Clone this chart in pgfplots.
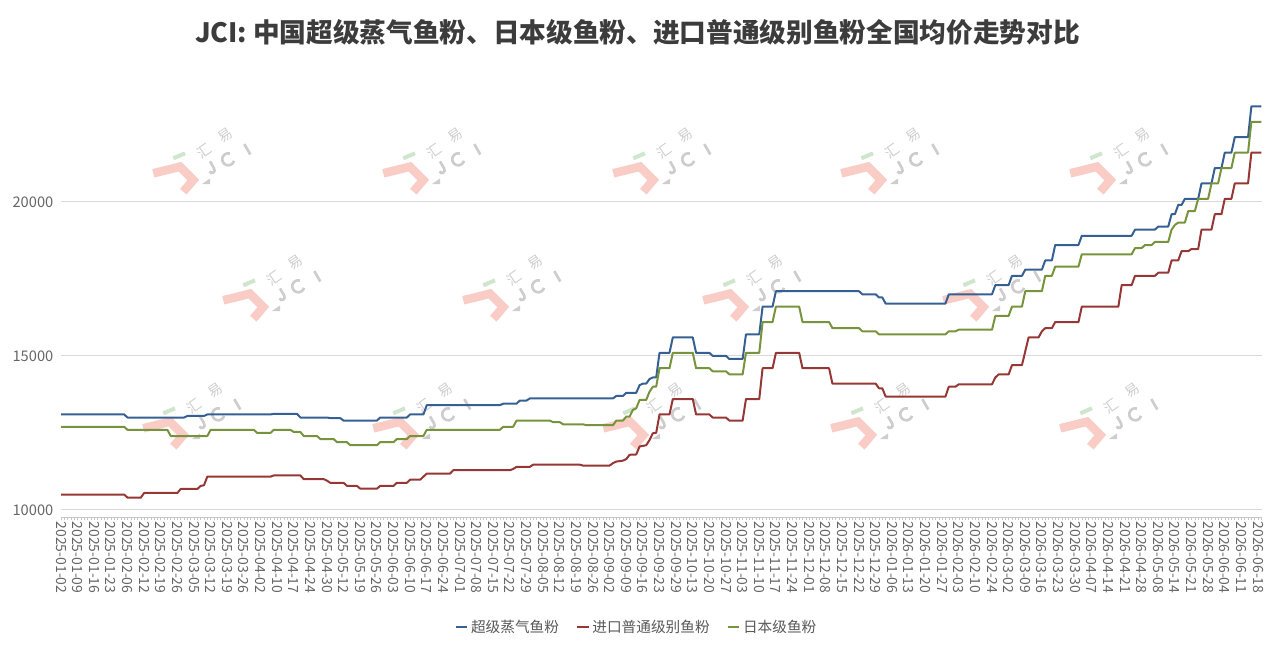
\documentclass[border=0pt]{standalone}
\usepackage{pgfplots}
\pgfplotsset{compat=1.18}
\usepackage{fontspec}
\setmainfont{Noto Sans CJK SC}
\definecolor{cblue}{RGB}{55,96,146}
\definecolor{cred}{RGB}{149,55,53}
\definecolor{cgreen}{RGB}{119,147,60}
\definecolor{tickgray}{RGB}{102,102,102}
\definecolor{leggray}{RGB}{89,89,89}
\definecolor{titlegray}{RGB}{60,60,60}
\definecolor{gridgray}{RGB}{217,217,217}
\definecolor{wmpink}{RGB}{249,205,198}
\definecolor{wmgreen}{RGB}{205,230,205}
\definecolor{wmgray}{RGB}{205,205,205}
\newcommand\wm[2]{%
\begin{scope}[shift={(#1,#2)}]
\draw[wmpink,line width=6.5pt,line join=miter] (3.3,3.3) -- (30,-3.3) -- (43.3,10) -- (33.3,21.7);
\draw[wmgreen,line width=3pt] (23.3,-11.7) -- (35,-16.7);
\fill[wmgray] (52,14) -- (60,8.5) -- (60,14) -- cycle;
\node[wmgray,rotate=35,inner sep=0pt,font=\fontsize{10.5}{10.5}\selectfont] at (54.4,-19.2) {汇};
\node[wmgray,rotate=35,inner sep=0pt,font=\fontsize{10.5}{10.5}\selectfont] at (75.6,-34.2) {易};
\begin{scope}[shift={(61.7,-2.7)},rotate=30]
\draw[wmgray,line width=2pt] (1.5,-6) -- (1.5,2) .. controls (1.5,6.5) and (-4,6.5) .. (-4,2.5);
\end{scope}
\begin{scope}[shift={(78.3,-10.7)},rotate=30]
\draw[wmgray,line width=2pt] (4.2,4.2) arc[start angle=45,end angle=315,radius=6];
\end{scope}
\begin{scope}[shift={(97.3,-20.7)},rotate=30]
\draw[wmgray,line width=2pt] (0,-6) -- (0,6);
\end{scope}
\end{scope}}
\begin{document}
\begin{tikzpicture}
\begin{scope}[x=0.75pt,y=-0.75pt]
\foreach \xx in {150,380,610,838,1067} {\wm{\xx}{170}}
\foreach \xx in {220,460,700,940} {\wm{\xx}{297}}
\foreach \xx in {140,370,600,828,1057} {\wm{\xx}{425}}
\node[font=\bfseries\fontsize{20}{24}\selectfont,text=titlegray] at (637.5,32) {JCI: 中国超级蒸气鱼粉、日本级鱼粉、进口普通级别鱼粉全国均价走势对比};
\end{scope}
\begin{axis}[
  at={(45.75pt,-387.75pt)}, anchor=south west,
  scale only axis, width=900.75pt, height=317.2pt,
  xmin=0, xmax=361.2, ymin=9770, ymax=23500,
  axis x line*=bottom, axis y line*=left,
  x axis line style={draw=gray!45,-},
  y axis line style={draw=none},
  scaled y ticks=false,
  ytick={10000,15000,20000}, yticklabels={10000,15000,20000},
  ytick style={draw=none},
  ymajorgrids, grid style={gridgray,line width=0.75pt},
  yticklabel style={font=\fontsize{11}{11}\selectfont,text=tickgray},
  xtick={0,5,...,360},
  minor xtick={0,1,...,361},
  tick align=outside,
  major tick length=2.25pt, minor tick length=2.25pt,
  xtick style={draw=gray!45,line width=0.4pt},
  minor tick style={draw=gray!45,line width=0.4pt},
  xticklabels={2025-01-02,2025-01-09,2025-01-16,2025-01-23,2025-02-06,2025-02-12,2025-02-19,2025-02-26,2025-03-05,2025-03-12,2025-03-19,2025-03-26,2025-04-02,2025-04-10,2025-04-17,2025-04-24,2025-04-30,2025-05-12,2025-05-19,2025-05-26,2025-06-03,2025-06-10,2025-06-17,2025-06-24,2025-07-01,2025-07-08,2025-07-15,2025-07-22,2025-07-29,2025-08-05,2025-08-12,2025-08-19,2025-08-26,2025-09-02,2025-09-09,2025-09-16,2025-09-23,2025-09-29,2025-10-13,2025-10-20,2025-10-27,2025-11-03,2025-11-10,2025-11-17,2025-11-24,2025-12-01,2025-12-08,2025-12-15,2025-12-22,2025-12-29,2026-01-06,2026-01-13,2026-01-20,2026-01-27,2026-02-03,2026-02-10,2026-02-24,2026-03-02,2026-03-09,2026-03-16,2026-03-23,2026-03-30,2026-04-07,2026-04-14,2026-04-21,2026-04-28,2026-05-08,2026-05-14,2026-05-21,2026-05-28,2026-06-04,2026-06-11,2026-06-18},
  xticklabel style={rotate=-90,anchor=west,font=\fontsize{10.5}{10.5}\selectfont,text=tickgray,inner sep=1pt},
  legend columns=3,
  legend style={at={(0.4796,-0.26)},anchor=center,draw=none,fill=none,font=\fontsize{11}{11}\selectfont,text=leggray,
    /tikz/every even column/.append style={column sep=11pt}},
  legend image code/.code={\draw[#1,line width=1.5pt] (0pt,0pt) -- (8.5pt,0pt);},
  every axis plot/.append style={line width=1.5pt,line join=round,no marks},
]
\addplot[cblue] coordinates {(0,13100) (19,13100) (20,13000) (37,13000) (38,13050) (43,13050) (44,13100) (63,13100) (64,13120) (71,13120) (72,13000) (80,13000) (81,12980) (84,12980) (85,12900) (95,12900) (96,13000) (104,13000) (105,13100) (109,13100) (110,13400) (132,13400) (133,13450) (137,13450) (138,13550) (140,13550) (141,13620) (166,13620) (167,13700) (169,13700) (170,13800) (173,13800) (174,14050) (175,14100) (176,14100) (177,14250) (178,14300) (179,14300) (180,15100) (183,15100) (184,15600) (190,15600) (191,15100) (195,15100) (196,15000) (200,15000) (201,14900) (205,14900) (206,15700) (210,15700) (211,16600) (214,16600) (215,17100) (240,17100) (241,17000) (245,17000) (246,16900) (247,16900) (248,16700) (266,16700) (267,17000) (280,17000) (281,17300) (285,17300) (286,17600) (289,17600) (290,17800) (295,17800) (296,18100) (298,18100) (299,18600) (306,18600) (307,18900) (322,18900) (323,19100) (329,19100) (330,19200) (333,19200) (334,19600) (335,19600) (336,19900) (337,19900) (338,20100) (342,20100) (343,20600) (346,20600) (347,21100) (349,21100) (350,21600) (352,21600) (353,22100) (357,22100) (358,23100) (361,23100)};
\addlegendentry{超级蒸气鱼粉}
\addplot[cred] coordinates {(0,10500) (19,10500) (20,10400) (24,10400) (25,10550) (35,10550) (36,10680) (41,10680) (42,10780) (43,10800) (44,11080) (63,11080) (64,11120) (72,11120) (73,11000) (79,11000) (80,10950) (81,10880) (85,10880) (86,10780) (89,10780) (90,10690) (95,10690) (96,10780) (100,10780) (101,10880) (104,10880) (105,10980) (108,10980) (109,11080) (110,11180) (117,11180) (118,11290) (135,11290) (136,11330) (137,11400) (141,11400) (142,11470) (156,11470) (157,11440) (165,11440) (166,11520) (167,11570) (169,11600) (170,11650) (171,11790) (173,11800) (174,12060) (176,12100) (177,12270) (178,12490) (179,12500) (180,13100) (183,13100) (184,13600) (190,13600) (191,13100) (195,13100) (196,13000) (200,13000) (201,12900) (205,12900) (206,13600) (210,13600) (211,14600) (214,14600) (215,15100) (222,15100) (223,14600) (231,14600) (232,14100) (245,14100) (246,13950) (247,13950) (248,13680) (266,13680) (267,14000) (269,14000) (270,14080) (280,14080) (281,14300) (282,14400) (285,14400) (286,14700) (289,14700) (291,15600) (294,15600) (295,15800) (296,15900) (298,15900) (299,16100) (306,16100) (307,16600) (318,16600) (319,17300) (322,17300) (323,17600) (329,17600) (330,17700) (333,17700) (334,18100) (336,18100) (337,18400) (339,18400) (340,18470) (342,18470) (343,19100) (346,19100) (347,19600) (349,19600) (350,20100) (352,20100) (353,20600) (357,20600) (358,21600) (361,21600)};
\addlegendentry{进口普通级别鱼粉}
\addplot[cgreen] coordinates {(0,12700) (19,12700) (20,12600) (32,12600) (33,12400) (44,12400) (45,12600) (58,12600) (59,12500) (63,12500) (64,12600) (69,12600) (70,12530) (72,12530) (73,12400) (77,12400) (78,12300) (82,12300) (83,12200) (86,12200) (87,12100) (95,12100) (96,12200) (100,12200) (101,12300) (104,12300) (105,12400) (109,12400) (110,12600) (132,12600) (133,12700) (136,12700) (137,12900) (147,12900) (148,12850) (150,12850) (151,12780) (157,12780) (158,12750) (166,12750) (167,12900) (169,12900) (170,13030) (171,13030) (172,13250) (173,13300) (174,13570) (176,13570) (177,13840) (178,14000) (179,14000) (180,14600) (183,14600) (184,15100) (190,15100) (191,14600) (195,14600) (196,14500) (200,14500) (201,14400) (205,14400) (206,15100) (210,15100) (211,16100) (214,16100) (215,16600) (222,16600) (223,16100) (231,16100) (232,15900) (240,15900) (241,15800) (245,15800) (246,15700) (266,15700) (267,15800) (269,15800) (270,15850) (280,15850) (281,16300) (285,16300) (286,16600) (289,16600) (290,17100) (295,17100) (296,17600) (298,17600) (299,17900) (306,17900) (307,18300) (322,18300) (323,18500) (325,18500) (326,18600) (328,18600) (329,18700) (333,18700) (334,19100) (335,19250) (336,19330) (338,19330) (339,19700) (341,19700) (342,20100) (345,20100) (346,20600) (348,20600) (349,21100) (352,21100) (353,21600) (357,21600) (358,22600) (361,22600)};
\addlegendentry{日本级鱼粉}
\end{axis}
\pgfresetboundingbox
\path[use as bounding box] (0,0) rectangle (957pt,-488.25pt);
\end{tikzpicture}
\end{document}
